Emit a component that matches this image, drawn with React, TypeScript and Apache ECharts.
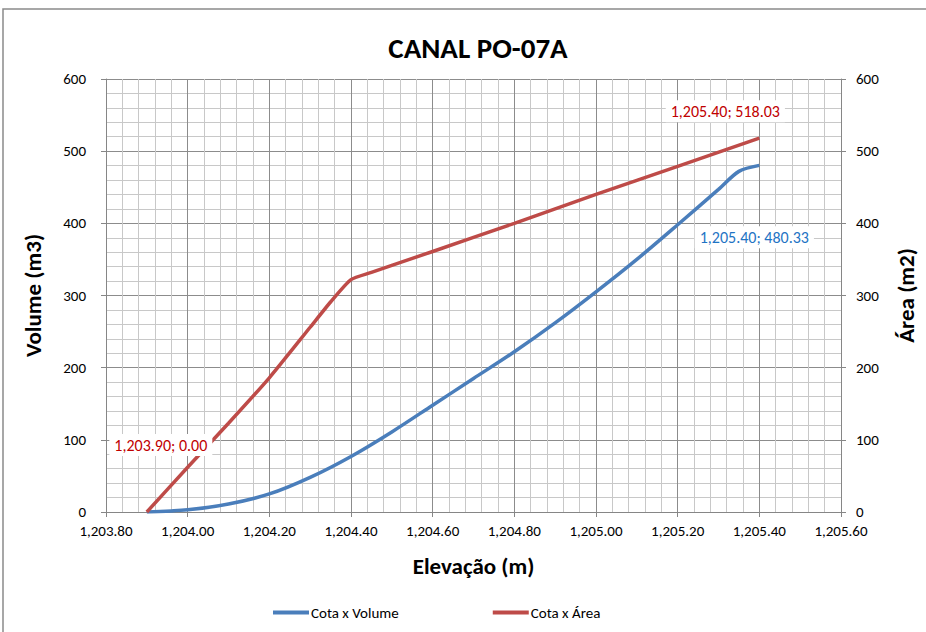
import React, { useEffect, useRef } from "react";
import * as echarts from "echarts";

const TITLE = "CANAL PO-07A";
const volumeElev = [1203.9, 1204.0, 1204.1, 1204.2, 1204.3, 1204.4, 1204.5, 1204.6, 1204.7, 1204.8, 1204.9, 1205.0, 1205.1, 1205.2, 1205.3, 1205.35, 1205.4];
const volumeValues = [0, 3, 11, 25, 48, 77, 111, 148, 185, 222, 262, 305, 350, 398, 447, 472, 480.33];
const areaElev = [1203.9, 1204.0, 1204.1, 1204.2, 1204.3, 1204.35, 1204.4, 1204.45, 1204.6, 1204.8, 1205.0, 1205.2, 1205.4];
const areaValues = [0, 62, 123, 186, 256, 291, 322, 332, 361, 400, 440, 479, 518.03];
const xTicks = { min: 1203.8, max: 1205.6, interval: 0.2 };
const yTicks = { min: 0, max: 600, interval: 100 };

const FONT = "Carlito, Lato, 'Open Sans', sans-serif";

function fmt(v: number) {
  return v.toLocaleString("en-US", { minimumFractionDigits: 2, maximumFractionDigits: 2 });
}

export default function App() {
  const ref = useRef<HTMLDivElement>(null);
  useEffect(() => {
    if (!ref.current) return;
    const chart = echarts.init(ref.current, undefined, { renderer: "svg" });
    const volData = volumeElev.map((x, i) => [x, volumeValues[i]]);
    const areaData = areaElev.map((x, i) => [x, areaValues[i]]);
    const lastV = volData[volData.length - 1];
    const firstA = areaData[0];
    const lastA = areaData[areaData.length - 1];
    const gridMajor = { show: true, lineStyle: { color: "#8c8c8c", width: 1 } };
    const gridMinor = { show: true, lineStyle: { color: "#c8c8c8", width: 1 } };
    const axisLine = { show: true, lineStyle: { color: "#868686", width: 1 } };
    const axisTick = { show: true, length: 5, lineStyle: { color: "#868686" } };
    const labelStyle = { color: "#000", fontSize: 15, fontFamily: FONT };
    const nameStyle = { color: "#000", fontSize: 23, fontWeight: "bold" as const, fontFamily: FONT };
    const mkLabel = (color: string, offset: number[]) => ({
      show: true,
      position: "inside",
      offset,
      color,
      fontSize: 16,
      fontFamily: FONT,
      backgroundColor: "#fff",
      padding: [3, 5],
      formatter: (p: any) => `${fmt(p.data.coord[0])}; ${fmt(p.data.coord[1])}`,
    });
    chart.setOption({
      animation: false,
      backgroundColor: "#fff",
      title: {
        text: TITLE,
        left: 473,
        textAlign: "center",
        top: 28,
        textStyle: { color: "#000", fontSize: 29, fontWeight: "bold", fontFamily: FONT },
      },
      graphic: [
        {
          type: "rect",
          shape: { x: 3, y: 9, width: 1000, height: 1000 },
          style: { fill: "none", stroke: "#8a8a8a", lineWidth: 1.5 },
          silent: true,
        },
      ],
      grid: { left: 106, right: 85, top: 79, bottom: 120, containLabel: false },
      legend: {
        top: 600,
        left: 268,
        itemWidth: 36,
        itemHeight: 4,
        itemGap: 94,
        icon: "rect",
        textStyle: { color: "#000", fontSize: 15, fontFamily: FONT, padding: [0, 0, 0, -3] },
        data: ["Cota x Volume", "Cota x Área"],
      },
      xAxis: {
        type: "value",
        min: xTicks.min,
        max: xTicks.max,
        interval: xTicks.interval,
        name: "Elevação (m)",
        nameLocation: "middle",
        nameGap: 42,
        nameTextStyle: nameStyle,
        axisLine,
        axisTick,
        axisLabel: { ...labelStyle, margin: 11, formatter: (v: number) => fmt(v) },
        splitLine: gridMajor,
        minorTick: { show: false, splitNumber: 5 },
        minorSplitLine: gridMinor,
      },
      yAxis: [
        {
          type: "value",
          min: yTicks.min,
          max: yTicks.max,
          interval: yTicks.interval,
          position: "left",
          name: "Volume (m3)",
          nameLocation: "middle",
          nameRotate: 90,
          nameGap: 62,
          nameTextStyle: nameStyle,
          axisLine,
          axisTick,
          axisLabel: { ...labelStyle, margin: 20 },
          splitLine: gridMajor,
          minorTick: { show: false, splitNumber: 5 },
          minorSplitLine: gridMinor,
        },
        {
          type: "value",
          min: yTicks.min,
          max: yTicks.max,
          interval: yTicks.interval,
          position: "right",
          name: "Área (m2)",
          nameLocation: "middle",
          nameRotate: 90,
          nameGap: 53,
          nameTextStyle: nameStyle,
          axisLine,
          axisTick,
          axisLabel: { ...labelStyle, margin: 15 },
          splitLine: { show: false },
        },
      ],
      series: [
        {
          name: "Cota x Volume",
          type: "line",
          yAxisIndex: 0,
          data: volData,
          showSymbol: false,
          smooth: 0.3,
          lineStyle: { color: "#4A7EBB", width: 3.5 },
          itemStyle: { color: "#4A7EBB" },
          markPoint: {
            symbol: "circle",
            symbolSize: 0,
            data: [{ coord: lastV, label: mkLabel("#1f74c4", [-5, 72]) }],
          },
        },
        {
          name: "Cota x Área",
          type: "line",
          yAxisIndex: 1,
          data: areaData,
          showSymbol: false,
          smooth: 0.2,
          lineStyle: { color: "#BE4B48", width: 3.5 },
          itemStyle: { color: "#BE4B48" },
          markPoint: {
            symbol: "circle",
            symbolSize: 0,
            data: [
              { coord: firstA, label: mkLabel("#c00000", [14, -67]) },
              { coord: lastA, label: mkLabel("#c00000", [-34, -27]) },
            ],
          },
        },
      ],
    });
    return () => chart.dispose();
  }, []);
  return (
    <div
      ref={ref}
      style={{ position: "fixed", left: 0, top: 0, width: 926, height: 632, background: "#fff" }}
    />
  );
}
